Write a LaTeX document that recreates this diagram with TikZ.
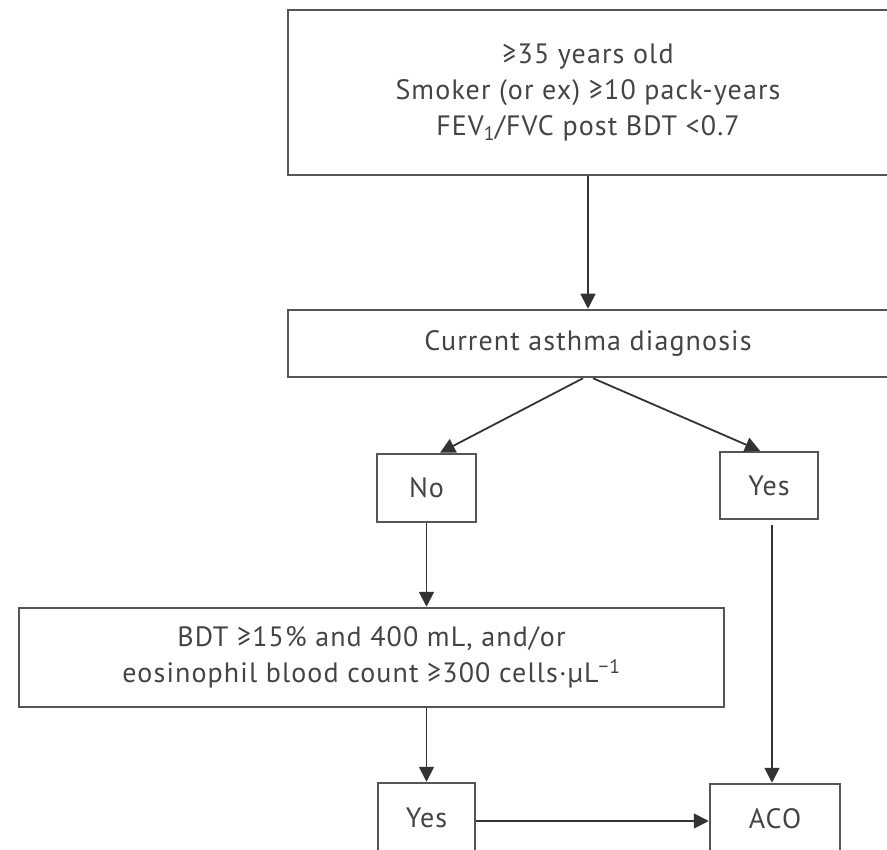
\documentclass[tikz,border=0pt]{standalone}
\usepackage{fontspec}
\setmainfont[LetterSpace=4]{PT Sans}
\usetikzlibrary{arrows.meta}
\definecolor{boxline}{HTML}{555555}
\definecolor{arrline}{HTML}{333333}
\definecolor{txtgray}{HTML}{444444}
\begin{document}
\begin{tikzpicture}[x=1pt,y=-1pt,every node/.style={draw=boxline,line width=2.5pt,shape=rectangle,inner sep=0pt,text=txtgray,align=center,font=\fontsize{28}{36}\selectfont}]

  \useasboundingbox (0,0) rectangle (887,850);

  % Specification of nodes (position, size)
  \node[minimum width=600,minimum height=165] (crit) at (588,92.5) {≥35 years old\\Smoker (or ex) ≥10 pack-years\\FEV\textsubscript{1}/FVC post BDT <0.7};
  \node[minimum width=600,minimum height=67] (asthma) at (588,343.5) {Current asthma diagnosis};
  \node[minimum width=99,minimum height=68] (no) at (426.5,488) {No};
  \node[minimum width=98,minimum height=67] (yesa) at (769,485.5) {Yes};
  \node[minimum width=705,minimum height=99] (bdt) at (371.5,657.5) {BDT ≥15\% and 400 mL, and/or\\eosinophil blood count ≥300 cells·µL\textsuperscript{−1}};
  \node[minimum width=97,minimum height=70] (yesb) at (426.5,818) {Yes};
  \node[minimum width=130,minimum height=70] (aco) at (775,819) {ACO};

  \begin{scope}[draw=arrline,line width=1.8pt,-{Triangle[length=15pt,width=15pt]}]
    \draw (crit.south) to (asthma.north);
    \draw ([xshift=-5]asthma.south) to ([xshift=13.5]no.north);
    \draw ([xshift=5]asthma.south) to ([xshift=-9]yesa.north);
    \draw (no.south) to (no.south |- bdt.north);
    \draw (no.south |- bdt.south) to (yesb.north);
    \draw ([xshift=3,yshift=-5]yesa.south) to ([xshift=-3]aco.north);
    \draw (yesb.east |- 0,821) to (aco.west |- 0,821);
  \end{scope}

\end{tikzpicture}
\end{document}
